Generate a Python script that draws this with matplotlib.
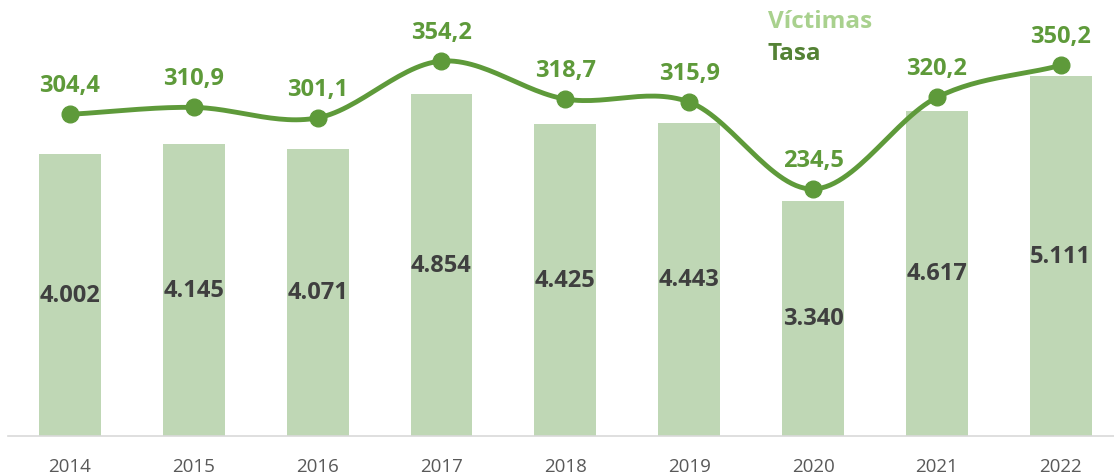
import numpy as np
import matplotlib
matplotlib.use("Agg")
from matplotlib import pyplot as plt

plt.rcParams['font.family'] = ['Open Sans', 'Noto Sans', 'DejaVu Sans']

years = ['2014', '2015', '2016', '2017', '2018', '2019', '2020', '2021', '2022']
victimas = [4002, 4145, 4071, 4854, 4425, 4443, 3340, 4617, 5111]
tasa = [304.4, 310.9, 301.1, 354.2, 318.7, 315.9, 234.5, 320.2, 350.2]

bar_col = '#bfd7b5'
line_col = '#5e9a3a'
lbl_col = '#3f3f3f'


def catmull(x, y, n=30):
	# smooth curve through the points (like the spreadsheet "smoothed line")
	x = np.asarray(x, float)
	y = np.asarray(y, float)
	px = np.concatenate([[2*x[0]-x[1]], x, [2*x[-1]-x[-2]]])
	py = np.concatenate([[2*y[0]-y[1]], y, [2*y[-1]-y[-2]]])
	xs, ys = [], []
	t = np.linspace(0, 1, n)
	for i in range(1, len(px)-2):
		for p, out in ((px, xs), (py, ys)):
			p0, p1, p2, p3 = p[i-1], p[i], p[i+1], p[i+2]
			out.extend(0.5*((2*p1) + (-p0+p2)*t + (2*p0-5*p1+4*p2-p3)*t**2 + (-p0+3*p1-3*p2+p3)*t**3))
	return np.array(xs), np.array(ys)


fig = plt.figure(figsize=(11.14, 4.77), dpi=100)
ax = fig.add_axes([8/1114, 40/477, 1106/1114, 432/477])
x = np.arange(len(years))

ax.bar(x, victimas, width=0.5, color=bar_col, zorder=1)
ax.set_xlim(-0.5, 8.43)
ax.set_ylim(0, 432/0.0705)
for xi, v in zip(x, victimas):
	ax.text(xi, v/2, f"{v/1000:.3f}", ha='center', va='center', fontsize=17,
		fontweight='bold', color=lbl_col)

ax.set_xticks(x)
ax.set_xticklabels(years, fontsize=13.5, color='#595959')
ax.tick_params(axis='x', length=0, pad=15)
ax.set_yticks([])
for s in ['top', 'right', 'left']:
	ax.spines[s].set_visible(False)
ax.spines['bottom'].set_color('#d9d9d9')
ax.spines['bottom'].set_linewidth(1.2)

ax2 = ax.twinx()
ax2.set_ylim(3.5, 407.6)
ax2.axis('off')
sx, sy = catmull(x, tasa)
ax2.plot(sx, sy, color=line_col, lw=3.5, zorder=3, solid_capstyle='round')
ax2.plot(x, tasa, 'o', color=line_col, ms=12, zorder=4)
for xi, t in zip(x, tasa):
	ax2.annotate(f"{t:.1f}".replace('.', ','), (xi, t), xytext=(0, 21), textcoords='offset points',
		ha='center', va='center', fontsize=17, fontweight='bold', color=line_col)

fig.text(768/1114, 1-22/477, 'Víctimas', fontsize=17.5, fontweight='bold', color='#a9d18e', va='center')
fig.text(768/1114, 1-54/477, 'Tasa', fontsize=17.5, fontweight='bold', color='#548235', va='center')

fig.savefig('out.png', dpi=100)
